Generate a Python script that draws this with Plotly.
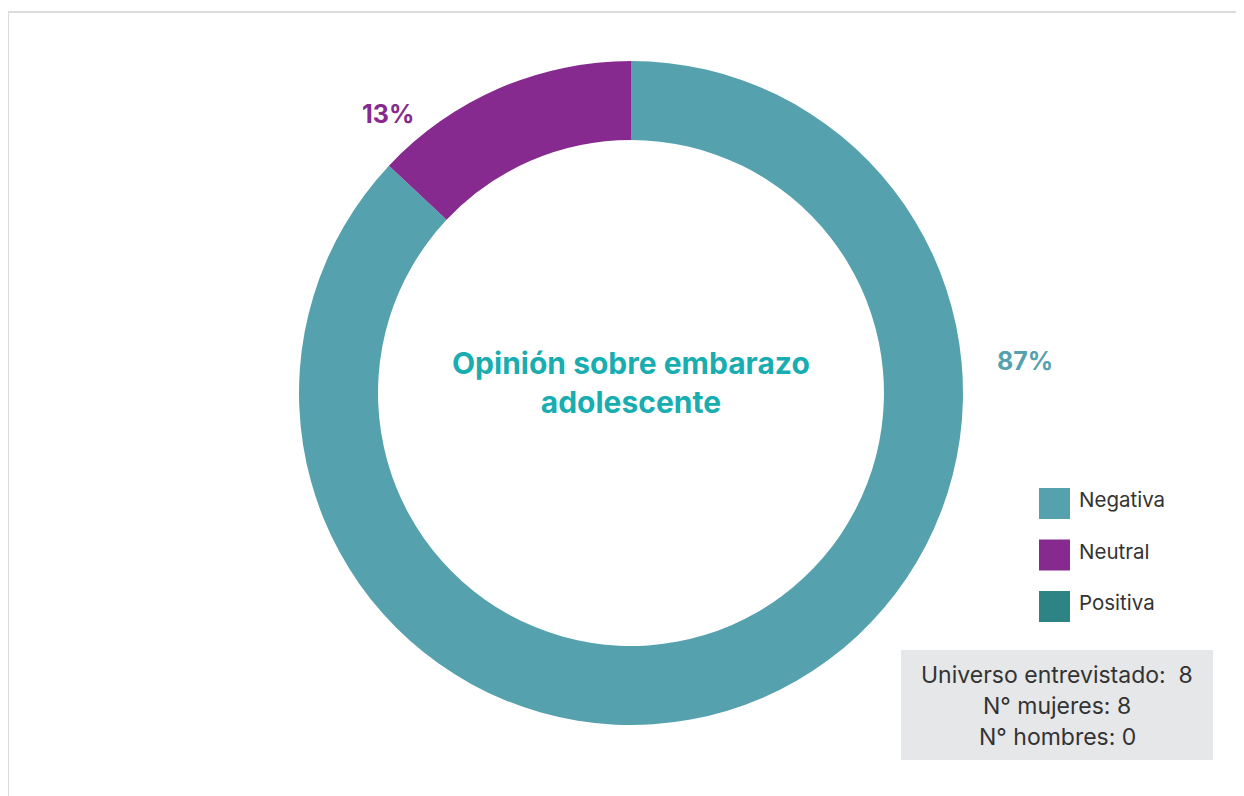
import plotly.graph_objects as go

categories = ["Negativa", "Neutral", "Positiva"]
values = [87, 13, 0]
colors = ["#55A1AD", "#862A8F", "#2E8385"]
center_title = ["Opinión sobre embarazo", "adolescente"]
info_lines = ["Universo entrevistado:  8", "N° mujeres: 8", "N° hombres: 0"]

# page body has an 8px margin; figure sits at (8, 8)
OFF = 8
W, H = 1236, 788
FONT = "Inter"

def px(x):
    return (x - OFF) / W

def py(y):
    return 1 - (y - OFF) / H

fig = go.Figure()
fig.add_trace(go.Pie(
    labels=categories, values=values, sort=False, direction="clockwise",
    rotation=0, hole=0.762, textinfo="none", hoverinfo="label+percent",
    marker=dict(colors=colors, line=dict(width=0)), showlegend=False,
    domain=dict(x=[px(299), px(963)], y=[py(725), py(61)]),
))

shapes = []
annotations = []
# outer frame
shapes.append(dict(type="rect", xref="paper", yref="paper",
                   x0=px(8), x1=1.05, y0=-0.05, y1=py(12),
                   line=dict(color="#DCDCDC", width=2), fillcolor="rgba(0,0,0,0)"))

def note(x, y, text, size, color, bold=False, xanchor="center"):
    annotations.append(dict(
        x=px(x), y=py(y), xref="paper", yref="paper", xanchor=xanchor, yanchor="middle",
        text=f"<b>{text}</b>" if bold else text, showarrow=False,
        font=dict(family=FONT, size=size, color=color)))

# percent labels
total = sum(values)
pct = [f"{round(100 * v / total)}%" for v in values]
note(1025, 361, pct[0], 25, colors[0], bold=True)
note(388, 114, pct[1], 25, colors[1], bold=True)

# centre title (single multi-line text)
note(631, 382, "<br>".join(f"<b>{l}</b>" for l in center_title), 30, "#18ADB0")

# custom legend
for i, (cat, col) in enumerate(zip(categories, colors)):
    cy = 503.5 + 51.5 * i
    shapes.append(dict(type="rect", xref="paper", yref="paper",
                       x0=px(1039), x1=px(1070), y0=py(cy + 15.5), y1=py(cy - 15.5),
                       line=dict(width=0), fillcolor=col))
    note(1077, cy - 4, cat, 20.5, "#333333", xanchor="left")

# info box
shapes.append(dict(type="rect", xref="paper", yref="paper",
                   x0=px(901), x1=px(1213), y0=py(760), y1=py(650),
                   line=dict(width=0), fillcolor="#E6E7E9"))
for i, line in enumerate(info_lines):
    note(1057, 675 + 31 * i, line, 23, "#333333")

fig.update_layout(
    width=W, height=H, margin=dict(l=0, r=0, t=0, b=0),
    paper_bgcolor="white", plot_bgcolor="white",
    shapes=shapes, annotations=annotations,
)
fig.write_html("out.html")
